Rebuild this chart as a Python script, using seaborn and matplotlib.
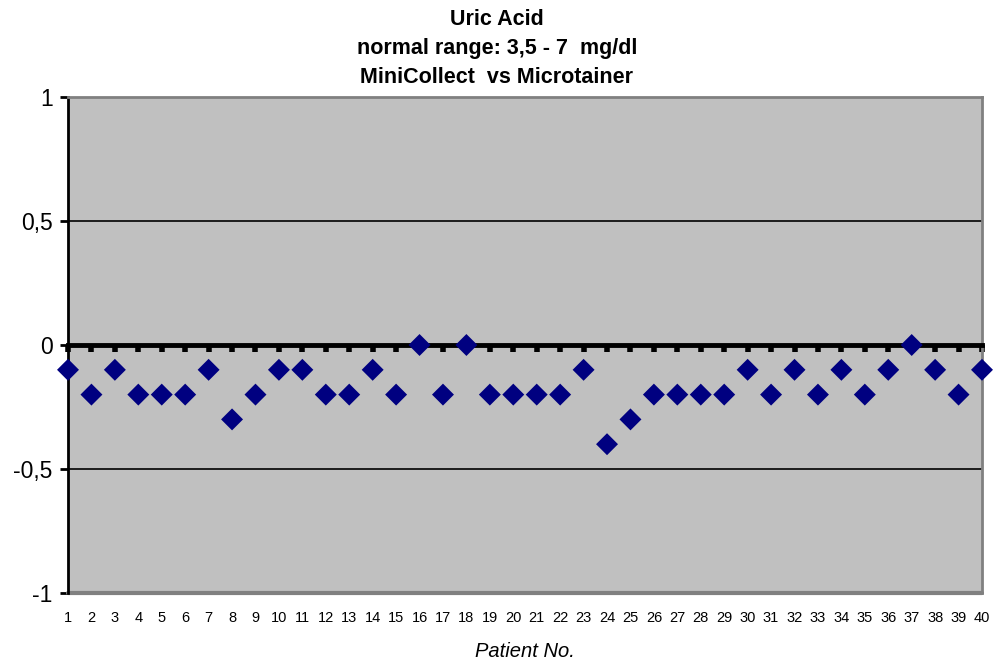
import numpy as np
import pandas as pd
import matplotlib
matplotlib.use("Agg")
import matplotlib.pyplot as plt
import seaborn as sns

# Patient numbers and the difference MiniCollect - Microtainer (mg/dl)
patients = list(range(1, 41))
differences = [-0.1, -0.2, -0.1, -0.2, -0.2, -0.2, -0.1, -0.3, -0.2, -0.1,
               -0.1, -0.2, -0.2, -0.1, -0.2, 0.0, -0.2, 0.0, -0.2, -0.2,
               -0.2, -0.2, -0.1, -0.4, -0.3, -0.2, -0.2, -0.2, -0.2, -0.1,
               -0.2, -0.1, -0.2, -0.1, -0.2, -0.1, 0.0, -0.1, -0.2, -0.1]
y_ticks = [-1, -0.5, 0, 0.5, 1]
y_tick_labels = ["-1", "-0,5", "0", "0,5", "1"]

df = pd.DataFrame({"patient": patients, "diff": differences})

sns.set_theme(style="white")
plt.rcParams["font.family"] = ["Liberation Sans", "DejaVu Sans"]
plt.rcParams["text.color"] = "black"
plt.rcParams["xtick.color"] = "black"
plt.rcParams["ytick.color"] = "black"
plt.rcParams["axes.labelcolor"] = "black"

fig = plt.figure(figsize=(9.94, 6.61), dpi=100)
ax = fig.add_axes([68 / 994, (661 - 593) / 661, (982 - 68) / 994, (593 - 97) / 661])
ax.set_facecolor("#C0C0C0")

# horizontal gridlines
for yv in [-0.5, 0.5]:
    ax.axhline(yv, color="black", lw=1.2, zorder=1)

sns.scatterplot(data=df, x="patient", y="diff", ax=ax, marker="D", s=125,
                color="#000080", edgecolor="none", zorder=5, clip_on=False,
                legend=False)

ax.set_xlim(1, 40)
ax.set_ylim(-1, 1)

# category axis crosses at zero, as in the original
ax.spines["bottom"].set_position(("data", 0))
ax.spines["bottom"].set_linewidth(3.5)
ax.spines["bottom"].set_color("black")
ax.spines["bottom"].set_zorder(3)
ax.set_xticks(patients)
ax.tick_params(axis="x", direction="out", length=5, width=4, color="black",
               labelbottom=False, bottom=True)

ax.spines["left"].set_linewidth(2)
ax.spines["left"].set_color("black")
for side in ["top", "right"]:
    ax.spines[side].set_color("#808080")
    ax.spines[side].set_linewidth(2)
# bottom frame of the plot area
ax.axhline(-1, color="#808080", lw=3, zorder=2, clip_on=False)

ax.set_yticks(y_ticks)
ax.set_yticklabels(y_tick_labels, fontsize=16.5)
ax.tick_params(axis="y", direction="out", length=6, width=2, color="black",
               left=True, pad=5)

# tick labels at the bottom of the plot area
sec = ax.secondary_xaxis(0.0)
sec.set_xticks(patients)
sec.set_xticklabels([str(p) for p in patients], fontsize=10.5)
sec.tick_params(length=0, pad=13)
sec.spines["bottom"].set_visible(False)
sec.set_xlabel("Patient No.", fontsize=14.5, style="italic", labelpad=12)

ax.set_xlabel("")
ax.set_ylabel("")

fig.text(0.5, 0.987, "Uric Acid\nnormal range: 3,5 - 7  mg/dl\nMiniCollect  vs Microtainer",
         ha="center", va="top", fontsize=15.5, fontweight="bold", linespacing=1.5)

fig.savefig("out.png", dpi=100)
